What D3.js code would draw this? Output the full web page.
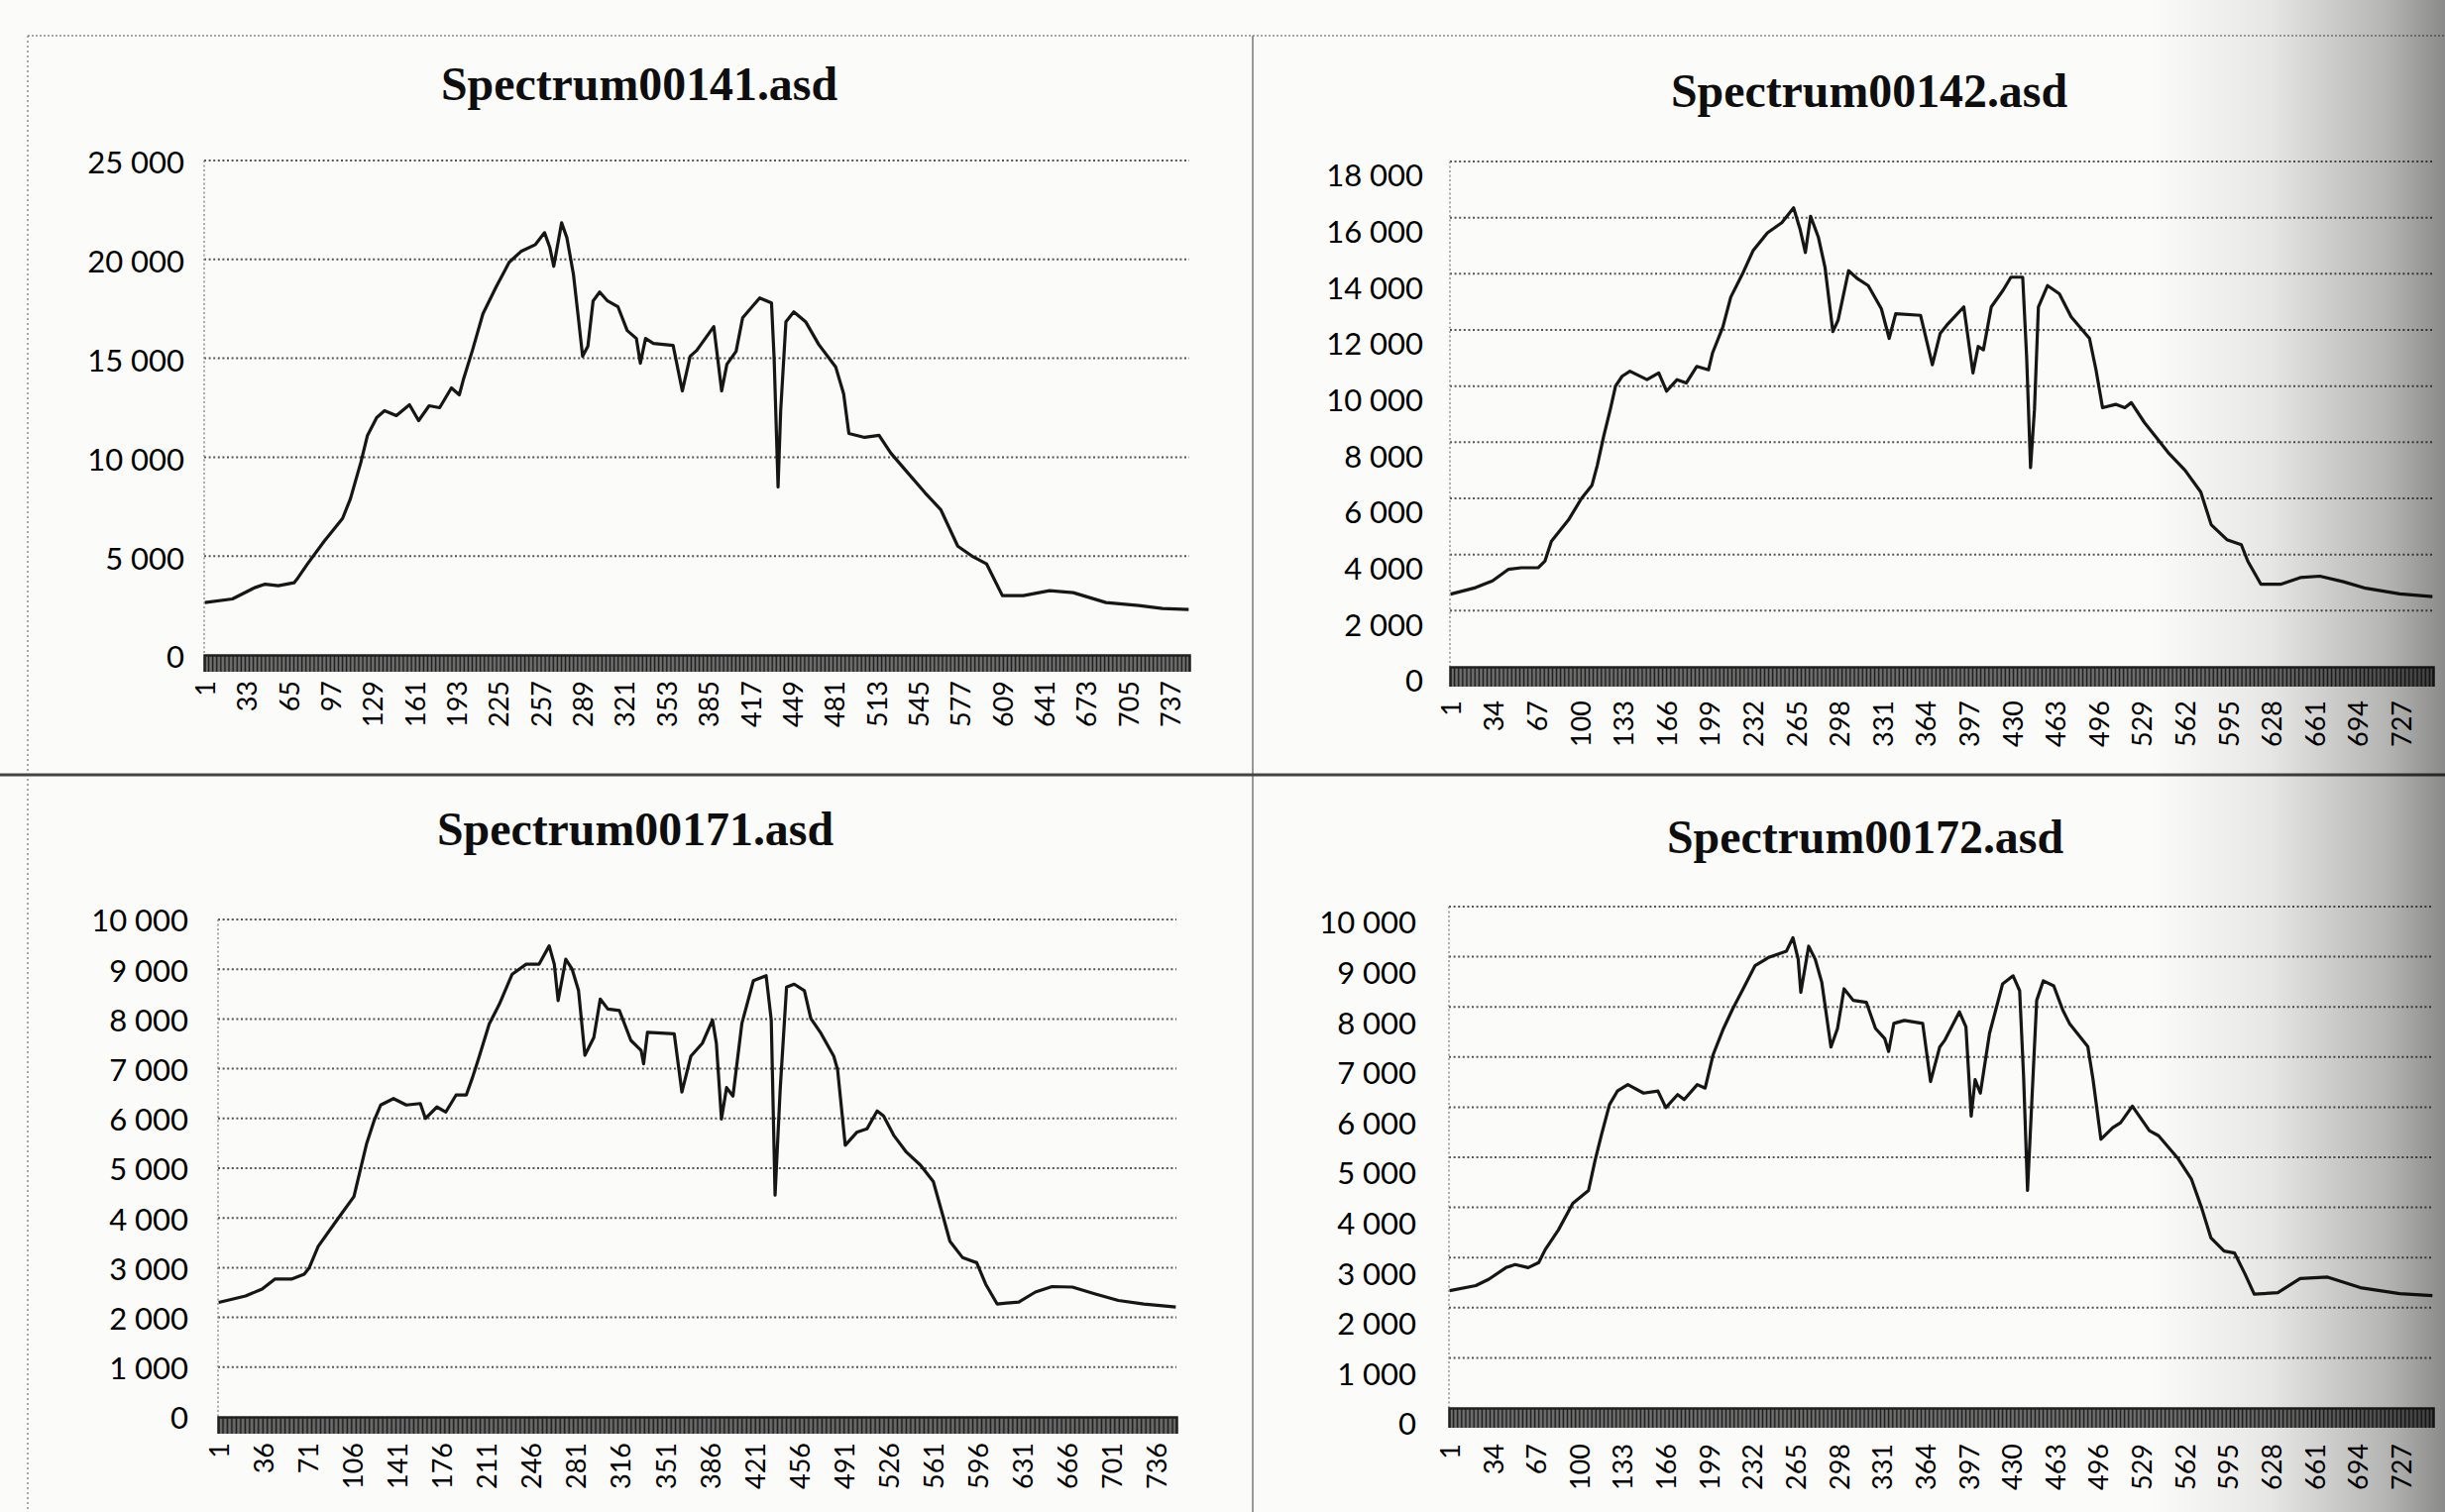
<!DOCTYPE html>
<html lang="en">
<head>
    <meta charset="UTF-8" />
    <title>Spectrum00141 / 00142 / 00171 / 00172</title>
    <script src="https://d3js.org/d3.v7.min.js"></script>
    <style>
        body, html {
            margin: 0;
            padding: 0;
            background: #fbfbfa;
        }
        svg {
            display: block;
        }
        .title {
            font-family: "Liberation Serif", "Times New Roman", serif;
            font-weight: bold;
            font-size: 48px;
            fill: #0e0e0e;
        }
        .ylab {
            font-family: Lato, "Open Sans", sans-serif;
            font-size: 31px;
            fill: #000;
        }
        .xlab {
            font-family: Lato, "Open Sans", sans-serif;
            font-size: 27px;
            fill: #000;
        }
        .grid {
            stroke: #555;
            stroke-width: 2px;
            stroke-dasharray: 2 2.6;
        }
        .spectrum {
            fill: none;
            stroke: #161616;
            stroke-width: 3.2px;
            stroke-linejoin: round;
        }
    </style>
</head>
<body>
    <script>
        // 751 channels per spectrum
        const categories = d3.range(1, 752);

        // [channel, value]
        const spec141 = [
            [1, 2650], [22, 2830], [39, 3400], [47, 3580], [57, 3500], [69, 3650], [72, 3900], [79, 4580],
            [92, 5750], [106, 6900], [112, 7900], [120, 9750], [125, 11100], [132, 12000], [138, 12350],
            [147, 12100], [157, 12650], [164, 11850], [172, 12600], [180, 12500], [189, 13500], [195, 13150],
            [198, 13900], [205, 15400], [213, 17250], [223, 18600], [233, 19850], [242, 20400], [253, 20750],
            [260, 21350], [264, 20600], [267, 19650], [273, 21850], [277, 21100], [282, 19250], [286, 16900],
            [289, 15100], [293, 15600], [297, 17900], [302, 18350], [308, 17900], [316, 17600], [323, 16400],
            [330, 16000], [333, 14750], [337, 16000], [343, 15750], [358, 15650], [365, 13350], [371, 15100],
            [376, 15400], [389, 16600], [395, 13350], [399, 14700], [406, 15350], [411, 17050], [424, 18050],
            [433, 17800], [435, 15000], [438, 8500], [440, 12350], [444, 16850], [450, 17350], [459, 16850],
            [469, 15700], [482, 14550], [488, 13200], [492, 11200], [504, 11000], [515, 11100], [524, 10200],
            [537, 9200], [550, 8200], [562, 7350], [575, 5500], [587, 4950], [597, 4600], [609, 3000],
            [625, 3000], [645, 3250], [663, 3150], [688, 2650], [713, 2500], [731, 2350], [751, 2300]
        ];

        const spec142 = [
            [1, 2590], [20, 2820], [33, 3060], [45, 3470], [55, 3530], [68, 3530], [73, 3760], [78, 4470],
            [91, 5230], [101, 6000], [109, 6470], [113, 7170], [118, 8230], [123, 9170], [127, 10000],
            [132, 10350], [138, 10530], [151, 10230], [160, 10470], [166, 9820], [174, 10230], [181, 10110],
            [189, 10700], [198, 10580], [201, 11170], [209, 12110], [215, 13170], [224, 14000], [232, 14820],
            [243, 15460], [254, 15820], [263, 16350], [268, 15580], [272, 14760], [276, 16050], [282, 15290],
            [287, 14230], [293, 11940], [297, 12350], [305, 14110], [312, 13820], [320, 13580], [330, 12760],
            [336, 11700], [341, 12580], [360, 12520], [369, 10760], [375, 11880], [380, 12170], [393, 12820],
            [400, 10470], [404, 11410], [408, 11290], [414, 12820], [423, 13410], [429, 13880], [438, 13880],
            [441, 11050], [444, 7100], [447, 9170], [450, 12820], [457, 13580], [466, 13290], [475, 12470],
            [489, 11700], [494, 10580], [499, 9230], [509, 9350], [516, 9230], [521, 9410], [531, 8700],
            [539, 8230], [549, 7640], [562, 7000], [574, 6230], [582, 5060], [594, 4530], [605, 4350],
            [610, 3760], [620, 2940], [635, 2940], [650, 3180], [665, 3230], [683, 3030], [700, 2800],
            [726, 2600], [751, 2500]
        ];

        const spec171 = [
            [1, 2300], [22, 2430], [35, 2570], [45, 2770], [58, 2770], [68, 2870], [72, 3000], [79, 3430],
            [94, 3970], [107, 4430], [112, 4970], [117, 5500], [123, 5970], [128, 6270], [138, 6400],
            [148, 6270], [159, 6300], [163, 6000], [172, 6230], [179, 6130], [187, 6470], [195, 6470],
            [200, 6830], [205, 7230], [213, 7900], [221, 8300], [231, 8900], [242, 9100], [252, 9100],
            [260, 9470], [264, 9100], [267, 8370], [273, 9200], [278, 9000], [283, 8570], [288, 7270],
            [295, 7630], [300, 8400], [306, 8200], [315, 8170], [324, 7570], [332, 7370], [334, 7100],
            [337, 7730], [358, 7700], [364, 6530], [371, 7250], [380, 7510], [388, 7980], [391, 7510],
            [395, 5990], [399, 6620], [404, 6450], [411, 7910], [420, 8770], [430, 8870], [434, 7980],
            [437, 4460], [441, 6580], [446, 8640], [452, 8700], [460, 8570], [465, 8010], [473, 7710],
            [483, 7250], [486, 6980], [492, 5460], [501, 5720], [509, 5790], [517, 6150], [522, 6050],
            [530, 5660], [540, 5320], [551, 5060], [561, 4730], [569, 4000], [574, 3530], [584, 3200],
            [595, 3100], [602, 2670], [611, 2270], [628, 2310], [641, 2510], [654, 2620], [670, 2610],
            [688, 2470], [706, 2340], [726, 2270], [751, 2210]
        ];

        const spec172 = [
            [1, 2340], [21, 2440], [31, 2570], [44, 2800], [51, 2860], [61, 2800], [69, 2900], [74, 3160],
            [84, 3550], [95, 4080], [107, 4340], [112, 4940], [117, 5460], [123, 6050], [129, 6320],
            [137, 6450], [149, 6280], [160, 6320], [166, 5990], [175, 6250], [180, 6150], [190, 6450],
            [196, 6380], [202, 7040], [210, 7570], [217, 7960], [225, 8360], [234, 8820], [244, 8980],
            [258, 9110], [263, 9380], [267, 8950], [269, 8290], [275, 9210], [280, 8950], [285, 8490],
            [292, 7200], [297, 7570], [302, 8360], [309, 8130], [319, 8090], [326, 7570], [333, 7370],
            [336, 7110], [340, 7670], [348, 7730], [362, 7670], [368, 6510], [375, 7200], [379, 7340],
            [390, 7900], [395, 7600], [399, 5820], [402, 6550], [406, 6280], [413, 7470], [423, 8460],
            [431, 8620], [436, 8320], [439, 6610], [442, 4340], [445, 5960], [449, 8130], [454, 8520],
            [462, 8420], [469, 7930], [474, 7670], [488, 7210], [492, 6550], [498, 5360], [507, 5590],
            [513, 5690], [522, 6020], [535, 5530], [542, 5430], [557, 4970], [567, 4570], [575, 3980],
            [582, 3390], [592, 3130], [600, 3090], [608, 2670], [615, 2270], [633, 2300], [650, 2580],
            [671, 2610], [696, 2400], [726, 2280], [751, 2240]
        ];

        // labelled channels on each x axis
        const xTicks141 = [1, 33, 65, 97, 129, 161, 193, 225, 257, 289, 321, 353, 385, 417, 449, 481, 513, 545, 577, 609, 641, 673, 705, 737];
        const xTicks142 = [1, 34, 67, 100, 133, 166, 199, 232, 265, 298, 331, 364, 397, 430, 463, 496, 529, 562, 595, 628, 661, 694, 727];
        const xTicks171 = [1, 36, 71, 106, 141, 176, 211, 246, 281, 316, 351, 386, 421, 456, 491, 526, 561, 596, 631, 666, 701, 736];
        const xTicks172 = [1, 34, 67, 100, 133, 166, 199, 232, 265, 298, 331, 364, 397, 430, 463, 496, 529, 562, 595, 628, 661, 694, 727];

        const yTicks141 = [0, 5000, 10000, 15000, 20000, 25000];
        const yTicks142 = [0, 2000, 4000, 6000, 8000, 10000, 12000, 14000, 16000, 18000];
        const yTicks171 = [0, 1000, 2000, 3000, 4000, 5000, 6000, 7000, 8000, 9000, 10000];
        const yTicks172 = [0, 1000, 2000, 3000, 4000, 5000, 6000, 7000, 8000, 9000, 10000];

        const titles = ["Spectrum00141.asd", "Spectrum00142.asd", "Spectrum00171.asd", "Spectrum00172.asd"];

        const width = 2467;
        const height = 1526;

        const charts = [
            {title: titles[0], data: spec141, xTicks: xTicks141, yTicks: yTicks141,
             left: 206, right: 1200, top: 162, bottom: 661, titleX: 645, titleY: 101,
             yGap: 20, yShift: 3, xGap: 26, band: 17},
            {title: titles[1], data: spec142, xTicks: xTicks142, yTicks: yTicks142,
             left: 1463, right: 2455, top: 163, bottom: 673, titleX: 1886, titleY: 108,
             yGap: 27, yShift: 15, xGap: 34, band: 20},
            {title: titles[2], data: spec171, xTicks: xTicks171, yTicks: yTicks171,
             left: 220, right: 1187, top: 928, bottom: 1430, titleX: 641, titleY: 853,
             yGap: 30, yShift: 2, xGap: 26, band: 17},
            {title: titles[3], data: spec172, xTicks: xTicks172, yTicks: yTicks172,
             left: 1462, right: 2455, top: 915, bottom: 1421, titleX: 1882, titleY: 861,
             yGap: 33, yShift: 17, xGap: 36, band: 20}
        ];

        const fmt = d3.formatLocale({decimal: ",", thousands: "\u00a0", grouping: [3], currency: ["", ""]}).format(",d");

        const svg = d3.select("body").append("svg")
            .attr("width", width)
            .attr("height", height);

        svg.append("rect")
            .attr("width", width)
            .attr("height", height)
            .attr("fill", "#fbfbfa");

        // page frame: dotted outer edges, solid dividers
        const frame = svg.append("g");
        frame.append("line")
            .attr("x1", 28).attr("x2", width).attr("y1", 36).attr("y2", 36)
            .attr("stroke", "#8a8a8a").attr("stroke-width", 1.5).attr("stroke-dasharray", "2 2");
        frame.append("line")
            .attr("x1", 28).attr("x2", 28).attr("y1", 36).attr("y2", height)
            .attr("stroke", "#8a8a8a").attr("stroke-width", 1.5).attr("stroke-dasharray", "2 3");
        frame.append("line")
            .attr("x1", 1264).attr("x2", 1264).attr("y1", 36).attr("y2", height)
            .attr("stroke", "#777").attr("stroke-width", 1.5);
        frame.append("line")
            .attr("x1", 0).attr("x2", width).attr("y1", 782).attr("y2", 782)
            .attr("stroke", "#444").attr("stroke-width", 3);

        charts.forEach(c => drawChart(c));

        function drawChart(c) {
            const x = d3.scaleLinear()
                .domain([0.5, categories.length + 0.5])
                .range([c.left, c.right]);
            const y = d3.scaleLinear()
                .domain([0, d3.max(c.yTicks)])
                .range([c.bottom, c.top]);

            const g = svg.append("g");

            g.selectAll(".grid")
                .data(c.yTicks.filter(v => v > 0))
                .join("line")
                .attr("class", "grid")
                .attr("x1", c.left)
                .attr("x2", c.right)
                .attr("y1", d => y(d))
                .attr("y2", d => y(d));

            // left axis line
            g.append("line")
                .attr("x1", c.left).attr("x2", c.left)
                .attr("y1", c.top).attr("y2", c.bottom)
                .attr("stroke", "#8a8a8a").attr("stroke-width", 1.4).attr("stroke-dasharray", "2 2.5");

            const yAxis = d3.axisLeft(y)
                .tickValues(c.yTicks)
                .tickSize(0)
                .tickPadding(c.yGap)
                .tickFormat(fmt);

            g.append("g")
                .attr("transform", `translate(${c.left},${c.yShift})`)
                .call(yAxis)
                .call(a => a.select(".domain").remove())
                .selectAll("text")
                .attr("class", "ylab");

            // one tick per channel boundary -> dense dark band
            const band = d3.axisBottom(x)
                .tickValues(d3.range(0, categories.length + 1).map(i => i + 0.5))
                .tickSize(c.band)
                .tickFormat("");

            g.append("g")
                .attr("transform", `translate(0,${c.bottom})`)
                .call(band)
                .call(a => a.select(".domain").attr("stroke", "#222").attr("stroke-width", 2.5))
                .selectAll(".tick line")
                .attr("stroke", "#202020")
                .attr("stroke-width", 1.1);

            const xAxis = d3.axisBottom(x)
                .tickValues(c.xTicks)
                .tickSize(0)
                .tickFormat(d => d);

            g.append("g")
                .attr("transform", `translate(0,${c.bottom})`)
                .call(xAxis)
                .call(a => a.select(".domain").remove())
                .selectAll("text")
                .attr("class", "xlab")
                .attr("transform", "rotate(-90)")
                .attr("text-anchor", "end")
                .attr("x", -c.xGap)
                .attr("y", 0)
                .attr("dy", "0.36em");

            const line = d3.line()
                .x(d => x(d[0]))
                .y(d => y(d[1]));

            g.append("path")
                .datum(c.data)
                .attr("class", "spectrum")
                .attr("d", line);

            g.append("text")
                .attr("class", "title")
                .attr("x", c.titleX)
                .attr("y", c.titleY)
                .attr("text-anchor", "middle")
                .attr("textLength", 400)
                .attr("lengthAdjust", "spacingAndGlyphs")
                .text(c.title);
        }

        // page curl shadow along the right edge of the scan
        const defs = svg.append("defs");
        const shade = defs.append("linearGradient")
            .attr("id", "shade")
            .attr("x1", "0%").attr("x2", "100%").attr("y1", "0%").attr("y2", "0%");
        shade.append("stop").attr("offset", "0%").attr("stop-color", "#000").attr("stop-opacity", 0);
        shade.append("stop").attr("offset", "40%").attr("stop-color", "#000").attr("stop-opacity", 0.08);
        shade.append("stop").attr("offset", "80%").attr("stop-color", "#000").attr("stop-opacity", 0.28);
        shade.append("stop").attr("offset", "100%").attr("stop-color", "#000").attr("stop-opacity", 0.45);

        svg.append("rect")
            .attr("x", 2170)
            .attr("y", 0)
            .attr("width", width - 2170)
            .attr("height", height)
            .attr("fill", "url(#shade)");
    </script>
</body>
</html>
